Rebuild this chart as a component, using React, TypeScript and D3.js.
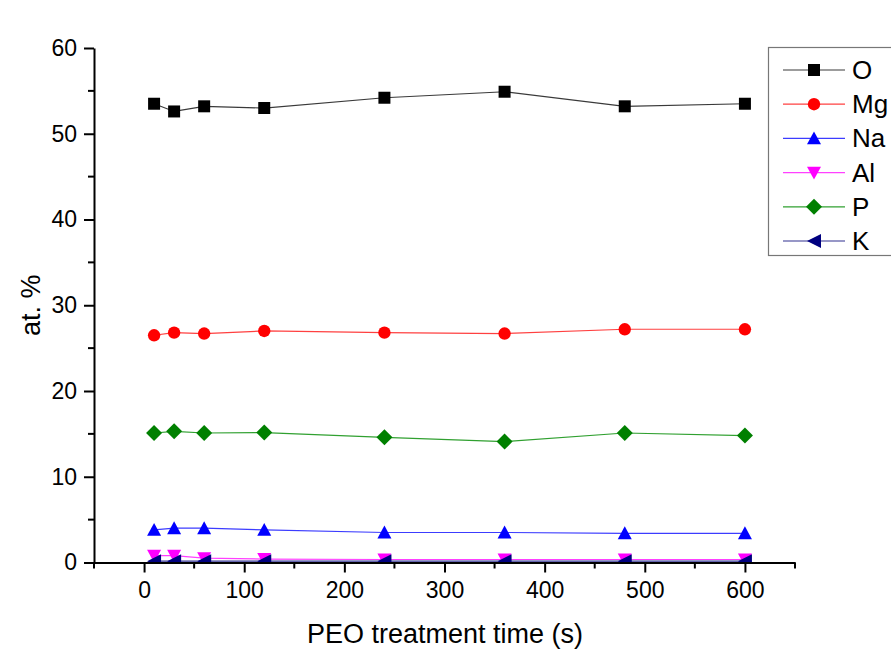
import React, { useEffect, useRef } from "react";
import * as d3 from "d3";

const times = [10, 30, 60, 120, 240, 360, 480, 600];
const oValues = [53.5, 52.6, 53.2, 53.0, 54.2, 54.9, 53.2, 53.5];
const mgValues = [26.5, 26.8, 26.7, 27.0, 26.8, 26.7, 27.2, 27.2];
const naValues = [3.8, 4.0, 4.0, 3.8, 3.5, 3.5, 3.4, 3.4];
const alValues = [0.8, 0.8, 0.5, 0.4, 0.35, 0.35, 0.35, 0.35];
const pValues = [15.1, 15.3, 15.1, 15.15, 14.6, 14.1, 15.1, 14.8];
const kValues = [0.15, 0.15, 0.15, 0.15, 0.15, 0.15, 0.15, 0.15];

const seriesNames = ["O", "Mg", "Na", "Al", "P", "K"];
const seriesValues = [oValues, mgValues, naValues, alValues, pValues, kValues];
const markerColors = ["#000000", "#ff0000", "#0000ff", "#ff00ff", "#008000", "#000080"];
const lineColors = ["#3a3a3a", "#ff4040", "#3c3cff", "#ff40ff", "#30a030", "#303090"];
const markerShapes = ["square", "circle", "up", "down", "diamond", "left"];

const xTicks = [0, 100, 200, 300, 400, 500, 600];
const yTicks = [0, 10, 20, 30, 40, 50, 60];

const markerPath = (shape: string) => {
  const s = 7;
  switch (shape) {
    case "square":
      return `M${-6},${-6}H6V6H-6Z`;
    case "circle":
      return d3.symbol(d3.symbolCircle, 120)();
    case "up":
      return `M0,${-s}L${s},${s * 0.85}L${-s},${s * 0.85}Z`;
    case "down":
      return `M0,${s}L${s},${-s * 0.85}L${-s},${-s * 0.85}Z`;
    case "diamond":
      return `M0,-8L8,0L0,8L-8,0Z`;
    default:
      return `M${-s},0L${s},${-s}L${s},${s}Z`;
  }
};

const App = () => {
  const svgRef = useRef<SVGSVGElement>(null);

  useEffect(() => {
    const width = 891;
    const height = 649;
    const left = 94;
    const right = 795;
    const top = 48;
    const bottom = 562.5;

    const x = d3.scaleLinear().domain([-50, 650]).range([left, right]);
    const y = d3.scaleLinear().domain([0, 60]).range([bottom, top]);

    const svg = d3.select(svgRef.current);
    svg.selectAll("*").remove();
    svg
      .attr("width", width)
      .attr("height", height)
      .style("position", "absolute")
      .style("left", "0px")
      .style("top", "0px")
      .style("background", "white")
      .style("font-family", "'Liberation Sans', Arial, sans-serif");

    // clip for data so markers below the x axis are cut
    svg
      .append("clipPath")
      .attr("id", "plot-clip")
      .append("rect")
      .attr("x", left)
      .attr("y", 0)
      .attr("width", right - left)
      .attr("height", bottom);

    const plot = svg.append("g").attr("clip-path", "url(#plot-clip)");

    seriesValues.forEach((vals, i) => {
      const pts = times.map((t, j) => ({ t, v: vals[j] }));
      const line = d3
        .line<{ t: number; v: number }>()
        .x((d) => x(d.t))
        .y((d) => y(d.v));
      plot
        .append("path")
        .attr("d", line(pts))
        .attr("fill", "none")
        .attr("stroke", lineColors[i])
        .attr("stroke-width", 1.2);
      plot
        .selectAll(null)
        .data(pts)
        .join("path")
        .attr("transform", (d) => `translate(${x(d.t)},${y(d.v)})`)
        .attr("d", markerPath(markerShapes[i]))
        .attr("fill", markerColors[i]);
    });

    // x axis
    const xAxis = svg
      .append("g")
      .attr("transform", `translate(0,${bottom})`)
      .call(
        d3
          .axisBottom(x)
          .tickValues(xTicks)
          .tickSize(10)
          .tickSizeOuter(0)
          .tickPadding(9),
      );
    xAxis.select(".domain").attr("stroke-width", 2);
    xAxis.selectAll(".tick line").attr("stroke-width", 2);
    xAxis.selectAll(".tick text").style("font-size", "23px").attr("fill", "#000");
    xAxis
      .selectAll(null)
      .data(d3.range(-50, 651, 100))
      .join("line")
      .attr("x1", (d) => x(d))
      .attr("x2", (d) => x(d))
      .attr("y1", 0)
      .attr("y2", 6)
      .attr("stroke", "black")
      .attr("stroke-width", 2);

    // y axis
    const yAxis = svg
      .append("g")
      .attr("transform", `translate(${left},0)`)
      .call(
        d3
          .axisLeft(y)
          .tickValues(yTicks)
          .tickSize(10)
          .tickSizeOuter(0)
          .tickPadding(7),
      );
    yAxis.select(".domain").attr("stroke-width", 2);
    yAxis.selectAll(".tick line").attr("stroke-width", 2);
    yAxis.selectAll(".tick text").style("font-size", "23px").attr("fill", "#000");
    yAxis
      .selectAll(null)
      .data(d3.range(5, 60, 10))
      .join("line")
      .attr("x1", 0)
      .attr("x2", -6)
      .attr("y1", (d) => y(d))
      .attr("y2", (d) => y(d))
      .attr("stroke", "black")
      .attr("stroke-width", 2);

    // axis titles
    svg
      .append("text")
      .attr("x", 445)
      .attr("y", 643)
      .attr("text-anchor", "middle")
      .style("font-size", "27px")
      .attr("fill", "#000")
      .text("PEO treatment time (s)");
    svg
      .append("text")
      .attr("transform", `translate(40,${(top + bottom) / 2}) rotate(-90)`)
      .attr("text-anchor", "middle")
      .style("font-size", "27px")
      .attr("fill", "#000")
      .text("at. %");

    // legend
    const legend = svg.append("g");
    legend
      .append("rect")
      .attr("x", 768.5)
      .attr("y", 47.5)
      .attr("width", 140)
      .attr("height", 208)
      .attr("fill", "white")
      .attr("stroke", "#777")
      .attr("stroke-width", 1.2);
    seriesNames.forEach((name, i) => {
      const ly = 70 + i * 34.2;
      legend
        .append("line")
        .attr("x1", 783)
        .attr("x2", 845)
        .attr("y1", ly)
        .attr("y2", ly)
        .attr("stroke", lineColors[i])
        .attr("stroke-width", 1.2);
      legend
        .append("path")
        .attr("transform", `translate(814,${ly})`)
        .attr("d", markerPath(markerShapes[i]))
        .attr("fill", markerColors[i]);
      legend
        .append("text")
        .attr("x", 852)
        .attr("y", ly + 9)
        .style("font-size", "26px")
        .attr("fill", "#000")
        .text(name);
    });
  }, []);

  return <svg ref={svgRef} />;
};

export default App;
